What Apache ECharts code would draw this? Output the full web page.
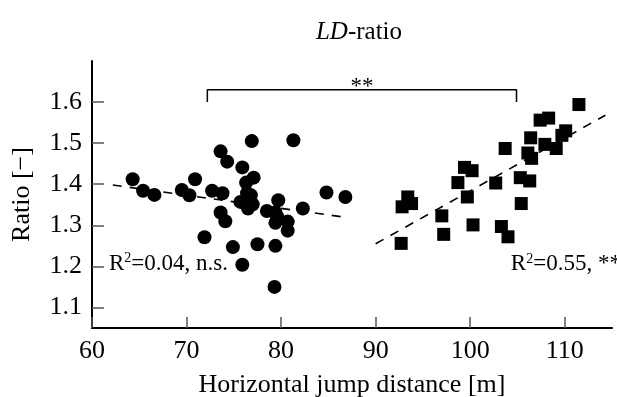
<!DOCTYPE html>
<html>
<head>
<meta charset="utf-8">
<script src="https://cdn.jsdelivr.net/npm/echarts@6/dist/echarts.min.js"></script>
<style>
  html, body { margin: 0; padding: 0; background: #fff; }
  #chart { width: 617px; height: 397px; }
</style>
</head>
<body>
<div id="chart"></div>
<script>
// 数据
const circlePts = [
  [64.3, 1.412], [65.4, 1.384], [66.6, 1.374], [69.5, 1.386], [70.3, 1.373],
  [70.9, 1.412], [72.7, 1.384], [73.8, 1.378], [73.6, 1.480], [74.3, 1.455],
  [71.9, 1.271], [73.6, 1.331], [74.1, 1.310], [74.9, 1.247], [75.9, 1.441],
  [75.9, 1.204], [76.9, 1.505], [77.1, 1.416], [76.3, 1.404], [75.7, 1.357],
  [76.4, 1.378], [76.8, 1.373], [77.0, 1.351], [76.5, 1.341], [77.5, 1.254],
  [78.5, 1.335], [79.4, 1.331], [79.7, 1.361], [79.6, 1.321], [79.4, 1.306],
  [79.4, 1.250], [79.3, 1.150], [80.7, 1.309], [80.7, 1.287], [81.3, 1.507],
  [82.3, 1.341], [84.8, 1.380], [86.8, 1.369]
];
const squarePts = [
  [92.7, 1.256], [92.8, 1.345], [93.4, 1.369], [93.8, 1.353], [97.0, 1.323],
  [97.2, 1.278], [98.7, 1.404], [99.4, 1.441], [100.2, 1.433], [99.7, 1.369],
  [100.3, 1.301], [102.7, 1.403], [103.3, 1.297], [104.0, 1.272], [103.7, 1.487],
  [105.4, 1.353], [105.3, 1.416], [106.3, 1.408], [106.1, 1.476], [106.5, 1.463],
  [106.4, 1.513], [107.4, 1.556], [108.3, 1.561], [107.9, 1.497], [109.1, 1.487],
  [109.7, 1.519], [110.1, 1.530], [111.5, 1.594]
];
const fitLeft = [[62.2, 1.398], [87.0, 1.319]];
const fitRight = [[90.0, 1.255], [114.3, 1.568]];
const bracket = [[72.2, 1.60], [72.2, 1.63], [104.9, 1.63], [104.9, 1.60]];
const xTicks = [60, 70, 80, 90, 100, 110];
const yTicks = [1.1, 1.2, 1.3, 1.4, 1.5, 1.6];
const notes = [
  { pos: [88.56, 1.638], text: '{n|**}', at: 'inside' },
  { pos: [61.8, 1.207], text: '{n|R}{s|2}{n|=0.04, n.s.}', at: 'right' },
  { pos: [104.3, 1.205], text: '{n|R}{s|2}{n|=0.55, **}', at: 'right' }
];

const serif = 'Liberation Serif';
const chart = echarts.init(document.getElementById('chart'));

chart.setOption({
  animation: false,
  textStyle: { fontFamily: serif, color: '#000' },
  title: {
    text: '{i|LD}{r|-ratio}',
    left: 354,
    top: 15,
    textAlign: 'center',
    textStyle: {
      fontWeight: 'normal',
      rich: {
        i: { fontFamily: serif, fontStyle: 'italic', fontWeight: 'normal', fontSize: 25, color: '#000' },
        r: { fontFamily: serif, fontWeight: 'normal', fontSize: 25, color: '#000' }
      }
    }
  },
  grid: { left: 92, right: 5, top: 61, bottom: 69, outerBoundsMode: 'none' },
  xAxis: {
    type: 'value',
    min: 60,
    max: 115,
    name: 'Horizontal jump distance [m]',
    nameLocation: 'middle',
    nameGap: 44,
    nameTextStyle: { fontFamily: serif, fontSize: 26, color: '#000' },
    axisLine: { lineStyle: { color: '#000', width: 2 } },
    axisTick: { inside: true, length: 11, customValues: xTicks, lineStyle: { color: '#555', width: 1.5 } },
    axisLabel: { customValues: xTicks, fontFamily: serif, fontSize: 26, color: '#000', margin: 10 },
    splitLine: { show: false }
  },
  yAxis: {
    type: 'value',
    min: 1.05,
    max: 1.7,
    name: 'Ratio [\u2212]',
    nameLocation: 'middle',
    nameGap: 57,
    nameTextStyle: { fontFamily: serif, fontSize: 26, color: '#000' },
    axisLine: { show: true, lineStyle: { color: '#000', width: 2 } },
    axisTick: { show: true, inside: true, length: 12, customValues: yTicks, lineStyle: { color: '#555', width: 1.5 } },
    axisLabel: { customValues: yTicks, fontFamily: serif, fontSize: 26, color: '#000', margin: 10,
      formatter: v => v.toFixed(1) },
    splitLine: { show: false }
  },
  series: [
    {
      type: 'line', data: fitLeft, symbol: 'none', silent: true,
      lineStyle: { color: '#000', width: 1.6, type: [9, 8] }
    },
    {
      type: 'line', data: fitRight, symbol: 'none', silent: true,
      lineStyle: { color: '#000', width: 1.6, type: [9, 8] }
    },
    {
      type: 'scatter', data: circlePts, symbol: 'circle', symbolSize: 14,
      itemStyle: { color: '#000', opacity: 1 }
    },
    {
      type: 'scatter', data: squarePts, symbol: 'rect', symbolSize: 13,
      itemStyle: { color: '#000', opacity: 1 }
    },
    {
      type: 'line', data: bracket, symbol: 'none', silent: true,
      lineStyle: { color: '#000', width: 1.5 }
    },
    {
      // 注释文字
      type: 'scatter', symbolSize: 0, silent: true,
      itemStyle: { color: '#000', opacity: 1 },
      data: notes.map(n => ({ value: n.pos, label: { formatter: n.text, position: n.at } })),
      label: {
        show: true,
        distance: 0,
        fontFamily: serif,
        fontSize: 23,
        color: '#000',
        opacity: 1,
        rich: {
          n: { fontFamily: serif, fontSize: 23, color: '#000' },
          s: { fontFamily: serif, fontSize: 14, color: '#000', verticalAlign: 'top', padding: [0, 0, 10, 0] }
        }
      }
    }
  ]
});
</script>
</body>
</html>
